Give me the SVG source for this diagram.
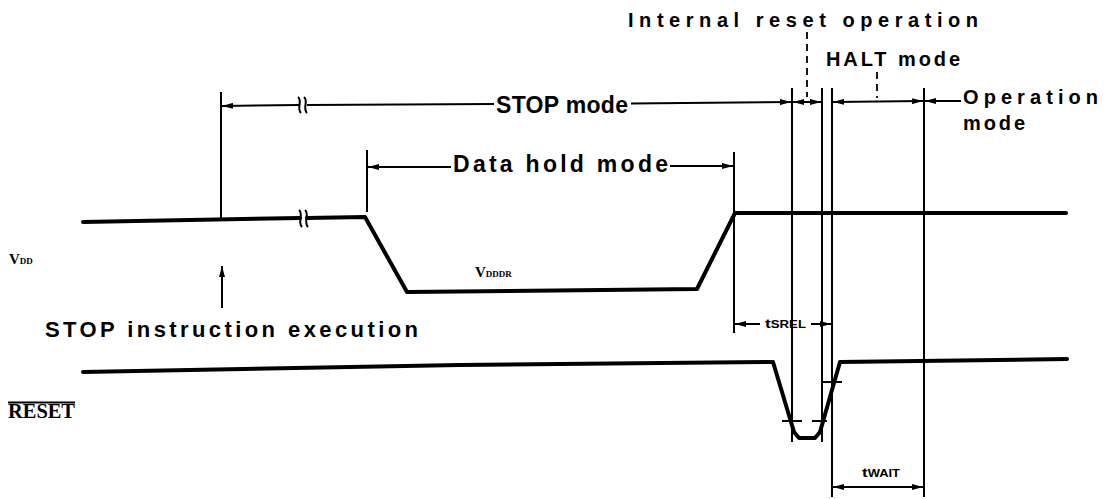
<svg xmlns="http://www.w3.org/2000/svg" width="1108" height="499" viewBox="0 0 1108 499">
<style>
.wave{fill:none;stroke:#000;stroke-width:4;stroke-linejoin:round;stroke-linecap:round}
.dim{fill:none;stroke:#000;stroke-width:2}
.vl{fill:none;stroke:#000;stroke-width:2}
.dash{fill:none;stroke:#000;stroke-width:1.8;stroke-dasharray:7 5}
.brk{fill:none;stroke:#000;stroke-width:2}
.lbl{font-family:"Liberation Sans",Arial,sans-serif;font-weight:bold;fill:#000}
.ser{font-family:"Liberation Serif","Times New Roman",serif;font-weight:bold;fill:#000}
.arr{marker-start:url(#ah);marker-end:url(#ah)}
.arrS{marker-start:url(#ah)}
.arrE{marker-end:url(#ah)}
</style>
<defs>
<marker id="ah" viewBox="0 0 11 6" refX="11" refY="3" markerWidth="11" markerHeight="6" markerUnits="userSpaceOnUse" orient="auto-start-reverse">
<path d="M0,0 L11,3 L0,6 z" fill="#000"/>
</marker>
</defs>
<rect width="1108" height="499" fill="#fff"/>

<g id="vertical-lines">
<line class="vl" x1="221" y1="92" x2="221" y2="221"/>
<line class="vl" x1="367" y1="150" x2="367" y2="212"/>
<line class="vl" x1="734" y1="152" x2="734" y2="333"/>
<line class="vl" x1="792" y1="88" x2="792" y2="442"/>
<line class="vl" x1="822" y1="88" x2="822" y2="442"/>
<line class="vl" x1="832" y1="88" x2="832" y2="497"/>
<line class="vl" x1="924" y1="88" x2="924" y2="497"/>
</g>

<g id="vdd-waveform">
<polyline class="wave" points="83,222 300,218"/>
<polyline class="wave" points="307,218 365,217 407,292 697,289 735,213 1066,213"/>
<path class="brk" d="M299,210 C304,214 297,222 302,227"/>
<path class="brk" d="M305,210 C310,214 303,222 308,227"/>
</g>

<g id="reset-waveform">
<polyline class="wave" points="83,372 460,365 773,362 794,432 799,438 815,438 820,432 840,362 1067,359"/>
<line class="vl" x1="782" y1="421" x2="802" y2="421"/>
<line class="vl" x1="812" y1="421" x2="827" y2="421"/>
<line class="vl" x1="823" y1="382" x2="842" y2="382"/>
</g>

<g id="connectors">
<line class="dim arrS" x1="222" y1="106" x2="299" y2="105"/>
<line class="dim" x1="307" y1="105" x2="494" y2="104"/>
<path class="brk" d="M298,97 C303,101 296,108 301,113"/>
<path class="brk" d="M304,97 C309,101 302,108 307,113"/>
<line class="dim arrE" x1="631" y1="103.5" x2="791" y2="102"/>
<line class="dim arrS" x1="368" y1="167" x2="451" y2="167"/>
<line class="dim arrE" x1="670" y1="166" x2="733" y2="166"/>
<line class="dim arr" x1="793" y1="102" x2="821" y2="102"/>
<line class="dim arr" x1="833" y1="102" x2="923" y2="101"/>
<line class="dim arrS" x1="925" y1="101" x2="961" y2="101"/>
<line class="dash" x1="807" y1="32" x2="807" y2="97"/>
<line class="dash" x1="877" y1="72" x2="877" y2="98"/>
<line class="dim arrE" x1="222" y1="308" x2="222" y2="266"/>
<line class="dim arrS" x1="735" y1="324" x2="760" y2="324"/>
<line class="dim arrE" x1="811" y1="324" x2="831" y2="324"/>
<line class="dim arr" x1="833" y1="487" x2="923" y2="487"/>
</g>

<g id="labels">
<text class="lbl" x="628" y="27" font-size="20" textLength="350" lengthAdjust="spacing">Internal reset operation</text>
<text class="lbl" x="826" y="66" font-size="20" textLength="134" lengthAdjust="spacing">HALT mode</text>
<text class="lbl" x="496" y="113" font-size="23" textLength="132" lengthAdjust="spacing">STOP mode</text>
<text class="lbl" x="453" y="172" font-size="23" textLength="215" lengthAdjust="spacing">Data hold mode</text>
<text class="lbl" x="963" y="104" font-size="20" textLength="135" lengthAdjust="spacing">Operation</text>
<text class="lbl" x="963" y="130" font-size="20" textLength="62" lengthAdjust="spacing">mode</text>
<text class="lbl" x="45" y="337" font-size="22" textLength="373" lengthAdjust="spacing">STOP instruction execution</text>
<text class="ser" x="9" y="264" font-size="15">V<tspan font-size="9">DD</tspan></text>
<text class="ser" x="475" y="277" font-size="15">V<tspan font-size="9">DDDR</tspan></text>
<text class="ser" x="8" y="418" font-size="20" textLength="67" lengthAdjust="spacingAndGlyphs">RESET</text>
<line x1="8" y1="402.5" x2="75" y2="402.5" stroke="#000" stroke-width="1.8"/>
<text class="lbl" x="765" y="328" font-size="13" textLength="41" lengthAdjust="spacingAndGlyphs">t<tspan font-size="10">SREL</tspan></text>
<text class="lbl" x="862" y="477" font-size="13" textLength="38" lengthAdjust="spacingAndGlyphs">t<tspan font-size="10">WAIT</tspan></text>
</g>
</svg>
